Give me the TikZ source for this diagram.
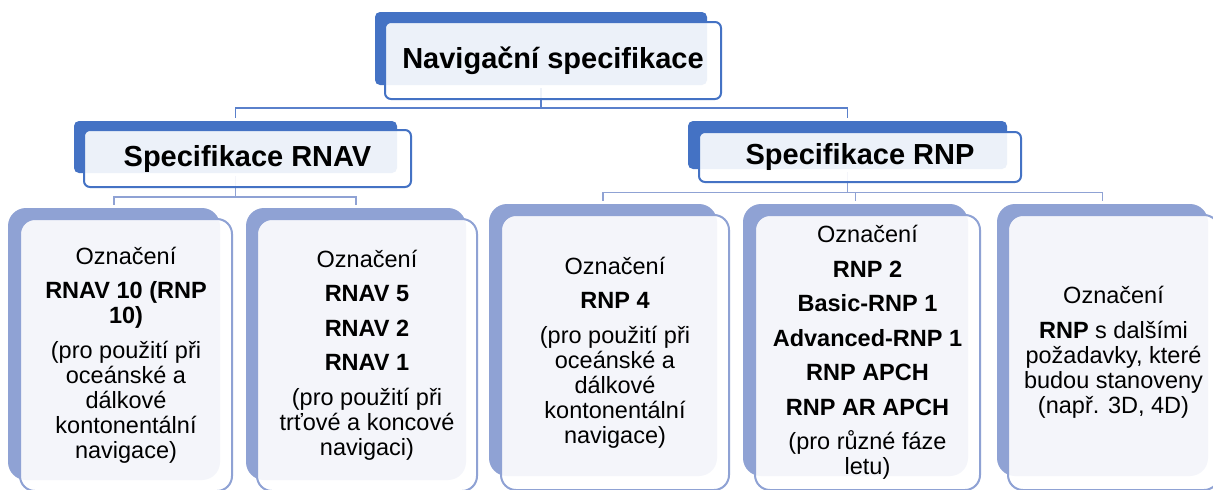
\documentclass[tikz,border=0pt]{standalone}
\usepackage{fontspec}
\setmainfont{Liberation Sans}
\definecolor{topblue}{HTML}{4472C4}
\definecolor{lowblue}{HTML}{8FA2D4}
\definecolor{linkblue}{HTML}{5A80CB}
\begin{document}
\begin{tikzpicture}[x=1pt,y=-1pt,
	back0/.style={fill=topblue,rounded corners=5pt,inner sep=0pt},
	front0/.style={draw=topblue,line width=2pt,fill=white,fill opacity=0.9,text opacity=1,rounded corners=6pt,inner sep=0pt,font=\fontsize{29}{32}\selectfont\bfseries},
	back1/.style={fill=lowblue,rounded corners=18pt,inner sep=0pt,minimum height=272pt},
	front1/.style={draw=lowblue,line width=2pt,fill=white,fill opacity=0.9,text opacity=1,rounded corners=15pt,inner sep=0pt,align=center,font=\fontsize{23.5}{25}\selectfont},
	link0/.style={draw=linkblue,line width=1.8pt},
	link1/.style={draw=lowblue,line width=1.8pt},
	ends/.style={shorten <=3pt,shorten >=3pt}]
	\useasboundingbox[fill=white] (0,0) rectangle (1213,490);
	% dark layers behind the boxes
	\node[back0,minimum width=332pt,minimum height=73pt] (navB) at (541,48.5) {};
	\node[back0,minimum width=323pt,minimum height=52pt] (rnavB) at (235.5,147) {};
	\node[back0,minimum width=319pt,minimum height=48pt] (rnpB) at (847.5,145) {};
	\node[back1,minimum width=212pt] (oneB) at (114,344) {};
	\node[back1,minimum width=220pt] (twoB) at (356,344) {};
	\node[back1,minimum width=228pt] (threeB) at (603,340) {};
	\node[back1,minimum width=225pt] (fourB) at (855.5,340) {};
	\node[back1,minimum width=211pt] (fiveB) at (1102.5,340) {};
	% connectors
	\coordinate (bar0) at (0,108);
	\coordinate (bar1) at (0,197);
	\coordinate (bar2) at (0,192.5);
	\draw[link0,shorten <=3pt] (navB.south) -- (navB.south |- bar0);
	\draw[link0,ends] (rnavB.north) |- (navB.south |- bar0) -| (rnpB.north);
	\draw[link1,shorten <=3pt] (rnavB.south) -- (rnavB.south |- bar1);
	\draw[link1,ends] (oneB.north) |- (rnavB.south |- bar1) -| (twoB.north);
	\draw[link1,shorten <=3pt] (rnpB.south) -- (rnpB.south |- bar2);
	\draw[link1,ends] (threeB.north) |- (fiveB.north |- bar2) -- (fiveB.north);
	\draw[link1,shorten >=3pt] (fourB.north |- bar2) -- (fourB.north);
	% front boxes with texts
	\node[front0,minimum width=336pt,minimum height=77pt] (nav) at (553,60.5) {Navigační specifikace};
	\node[front0,minimum width=327pt,minimum height=57pt] (rnav) at (247.5,158.5) {Specifikace RNAV};
	\node[front0,minimum width=322pt,minimum height=50pt] (rnp) at (860,157) {Specifikace RNP};
	\node[front1,minimum width=212pt,minimum height=272pt] (one) at (126,355)
	{Označení\\[9.5pt]\textbf{RNAV 10 (RNP}\\\textbf{10)}\\[9.5pt](pro použití při\\oceánské a\\dálkové\\kontonentální\\navigace)};
	\node[front1,minimum width=220pt,minimum height=272pt] (two) at (367,355)
	{Označení\\[9.5pt]\textbf{RNAV 5}\\[9.5pt]\textbf{RNAV 2}\\[9.5pt]\textbf{RNAV 1}\\[9.5pt](pro použití při\\trťové a koncové\\navigaci)};
	\node[front1,minimum width=228pt,minimum height=275pt] (three) at (615,352.5)
	{Označení\\[9.5pt]\textbf{RNP 4}\\[9.5pt](pro použití při\\oceánské a\\dálkové\\kontonentální\\navigace)};
	\node[front1,minimum width=225pt,minimum height=275pt] (four) at (867.5,352.5)
	{Označení\\[9.5pt]\textbf{RNP 2}\\[9.5pt]\textbf{Basic-RNP 1}\\[9.5pt]\textbf{Advanced-RNP 1}\\[9.5pt]\textbf{RNP APCH}\\[9.5pt]\textbf{RNP AR APCH}\\[9.5pt](pro různé fáze\\letu)};
	\node[front1,minimum width=211pt,minimum height=275pt] (five) at (1113.5,352.5)
	{Označení\\[9.5pt]\textbf{RNP} s dalšími\\požadavky, které\\budou stanoveny\\(např. 3D, 4D)};
\end{tikzpicture}
\end{document}
